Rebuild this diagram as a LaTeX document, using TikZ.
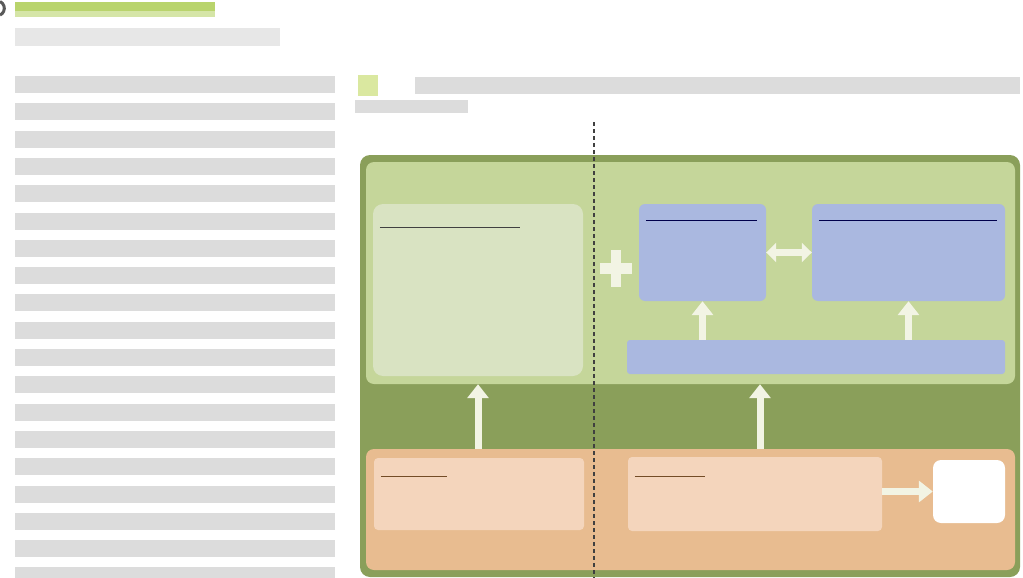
\documentclass[tikz,border=0pt]{standalone}
\usetikzlibrary{arrows.meta}
\definecolor{outergreen}{RGB}{138,159,90}
\definecolor{panelgreen}{RGB}{197,214,154}
\definecolor{palegreen}{RGB}{217,227,194}
\definecolor{boxblue}{RGB}{170,184,224}
\definecolor{panelorange}{RGB}{232,188,144}
\definecolor{boxorange}{RGB}{244,213,188}
\definecolor{arrowwhite}{RGB}{242,244,228}
\definecolor{limegreen}{RGB}{185,212,108}
\definecolor{palelime}{RGB}{218,232,160}
\definecolor{blurgray}{RGB}{220,220,220}
\begin{document}
\begin{tikzpicture}
      [x=1pt, y=-1pt,
       box/.style={rectangle, inner sep=0pt, rounded corners=6pt},
       uline/.style={line width=1pt, draw=black!75},
       fat/.style={line width=7pt, draw=arrowwhite, -{Triangle[length=14pt,width=21pt]}},
       fatboth/.style={line width=7pt, draw=arrowwhite, {Triangle[length=10pt,width=19pt]}-{Triangle[length=10pt,width=19pt]}},
       blur/.style={fill=blurgray}]
      \useasboundingbox (0,0) rectangle (1023,578);
      % blurred page text
      \draw[line width=3pt, black!65] (0,1.5) arc[start angle=-65, end angle=65, radius=7.5];
      \fill[limegreen] (15,2) rectangle (215,11);
      \fill[limegreen!60] (15,11) rectangle (215,17);
      \fill[blurgray!70] (15,28) rectangle (280,46);
      \foreach \k in {0,...,18}
        \fill[blur] (15,{76+27.3*\k}) rectangle ++(320,17);
      \fill[palelime] (358,75) rectangle (378,96);
      \fill[blur] (415,77) rectangle (1020,94);
      \fill[blur] (355,100) rectangle (468,113);
      % panels
      \node[box, fill=outergreen, rounded corners=10pt, minimum width=660pt, minimum height=422pt] (1) at (690,366) {};
      \node[box, fill=panelgreen, rounded corners=8pt, minimum width=649pt, minimum height=222pt] (2) at (690.5,273) {};
      \node[box, fill=palegreen, rounded corners=10pt, minimum width=210pt, minimum height=172pt] (3) at (478,290) {};
      \node[box, fill=boxblue, minimum width=127pt, minimum height=97pt] (4) at (702.5,252.5) {};
      \node[box, fill=boxblue, minimum width=193pt, minimum height=97pt] (5) at (908.5,252.5) {};
      \node[box, fill=boxblue, rounded corners=3pt, minimum width=378pt, minimum height=34pt] (6) at (816,357) {};
      \node[box, fill=panelorange, rounded corners=8pt, minimum width=649pt, minimum height=121pt] (7) at (690.5,509.5) {};
      \node[box, fill=boxorange, rounded corners=4pt, minimum width=210pt, minimum height=72pt] (8) at (479,494) {};
      \node[box, fill=boxorange, rounded corners=4pt, minimum width=254pt, minimum height=74pt] (9) at (755,494) {};
      \node[box, fill=white, rounded corners=8pt, minimum width=72pt, minimum height=63pt] (10) at (969,491.5) {};
      % title rules
      \draw[uline] ([xshift=7pt,yshift=-24pt]3.north west) -- ++(140,0);
      \draw[uline, draw=blue!30!black] ([xshift=7pt,yshift=-17pt]4.north west) -- ([xshift=-9pt,yshift=-17pt]4.north east);
      \draw[uline, draw=blue!30!black] ([xshift=7pt,yshift=-17pt]5.north west) -- ([xshift=-8pt,yshift=-17pt]5.north east);
      \draw[uline, draw=brown!60!black] ([xshift=7pt,yshift=-19pt]8.north west) -- ++(66,0);
      \draw[uline, draw=brown!60!black] ([xshift=7pt,yshift=-20pt]9.north west) -- ++(70,0);
      % plus
      \fill[arrowwhite] (611,250) rectangle (621,287);
      \fill[arrowwhite] (600,263) rectangle (632,274);
      % arrows
      \coordinate (a) at (760,449);
      \draw[fat] (3 |- 7.north) -- (3 |- 2.south);
      \draw[fat] (a) -- (a |- 2.south);
      \draw[fat] (4 |- 6.north) -- (4.south);
      \draw[fat] (5 |- 6.north) -- (5.south);
      \draw[fatboth] (4) -- (5);
      \draw[fat] (9.east |- 10.west) -- (10.west);
      % divider
      \coordinate (t) at (594,122);
      \coordinate (b) at (594,578);
      \draw[line width=1.2pt, black!75, dash pattern=on 4pt off 3pt] (t) -- (b);
  \end{tikzpicture}
\end{document}
